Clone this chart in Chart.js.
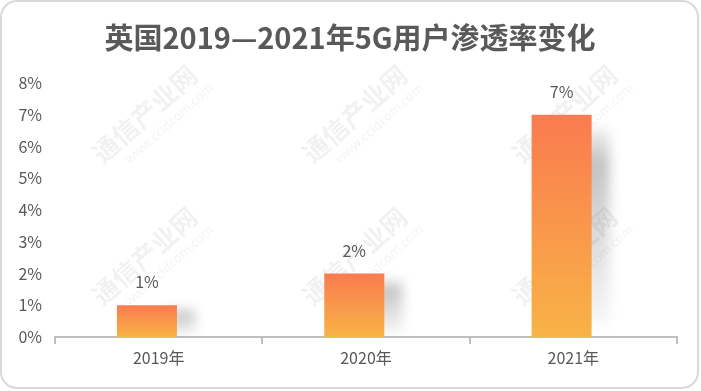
<!DOCTYPE html>
<html>
<head>
<meta charset="utf-8">
<script src="https://cdn.jsdelivr.net/npm/chart.js@4/dist/chart.umd.min.js"></script>
<style>
html,body{margin:0;padding:0;background:#fff;}
#wrap{position:relative;width:701px;height:391px;}
</style>
</head>
<body>
<div id="wrap"><canvas id="c" width="701" height="391"></canvas></div>
<script>
const titleText = '英国2019—2021年5G用户渗透率变化';
const categories = ['2019年', '2020年', '2021年'];
const penetration = [1, 2, 7];
const yTicks = [0, 1, 2, 3, 4, 5, 6, 7, 8];
const watermarkMain = '通信产业网';
const watermarkSub = 'www.ccidcom.com';

const FONT = '"Noto Sans CJK SC", "Noto Sans", sans-serif';
const TEXT = '#595959';

const framePlugin = {
  id: 'frame',
  beforeDraw(chart) {
    const ctx = chart.ctx;
    ctx.save();
    ctx.fillStyle = '#fff';
    ctx.fillRect(0, 0, chart.width, chart.height);
    ctx.fillStyle = 'rgba(0,0,0,0.055)';
    const xs = [150, 360, 570], ys = [120, 262];
    xs.forEach(x => ys.forEach(y => {
      ctx.save();
      ctx.translate(x, y);
      ctx.rotate(-Math.PI / 4.3);
      ctx.font = 'bold 26px ' + FONT;
      ctx.textAlign = 'center';
      ctx.textBaseline = 'middle';
      ctx.fillText(watermarkMain, 0, -8);
      ctx.font = '13px "Open Sans", sans-serif';
      ctx.fillText(watermarkSub, 12, 16);
      ctx.restore();
    }));
    ctx.restore();
  },
  afterDraw(chart) {
    const ctx = chart.ctx;
    ctx.save();
    ctx.strokeStyle = '#d9d9d9';
    ctx.lineWidth = 2;
    ctx.beginPath();
    ctx.roundRect(1, 1, 697, 387, 16);
    ctx.stroke();
    ctx.fillStyle = TEXT;
    ctx.font = 'bold 29px ' + FONT;
    ctx.textAlign = 'center';
    ctx.textBaseline = 'middle';
    ctx.fillText(titleText, 350, 38);
    const meta = chart.getDatasetMeta(0);
    ctx.font = '16px ' + FONT;
    ctx.textBaseline = 'bottom';
    meta.data.forEach((el, i) => {
      ctx.fillText(penetration[i] + '%', el.x, el.y - 15);
    });
    ctx.restore();
  }
};

// soft perspective shadow to the right of each bar, placed from the bar elements
const shadowPlugin = {
  id: 'barShadow',
  beforeDatasetDraw(chart) {
    const ctx = chart.ctx;
    const area = chart.chartArea;
    const meta = chart.getDatasetMeta(0);
    ctx.save();
    ctx.beginPath();
    ctx.rect(area.left, area.top - 40, area.right - area.left, area.bottom - area.top + 40);
    ctx.clip();
    ctx.filter = 'blur(6px)';
    meta.data.forEach(el => {
      const r = el.x + el.width / 2;
      const top = el.y, base = el.base;
      const h = base - top;
      const sTop = top + Math.min(14, h * 0.1);
      const sBot = base - Math.min(20, h * 0.06);
      const g = ctx.createLinearGradient(0, sTop, 0, sBot);
      g.addColorStop(0, 'rgba(0,0,0,0.06)');
      g.addColorStop(0.18, 'rgba(0,0,0,0.24)');
      g.addColorStop(0.45, 'rgba(0,0,0,0.16)');
      g.addColorStop(1, 'rgba(0,0,0,0.03)');
      ctx.fillStyle = g;
      ctx.fillRect(r - 12, sTop, 30, sBot - sTop);
    });
    ctx.restore();
  }
};

const shift = 0.0565;

new Chart(document.getElementById('c'), {
  type: 'bar',
  data: {
    labels: categories,
    datasets: [{
      data: penetration.map((v, i) => ({ x: i, y: v })),
      xAxisID: 'xb',
      barPercentage: 1,
      categoryPercentage: 60 / 207.3,
      borderWidth: 0,
      backgroundColor(context) {
        const chart = context.chart;
        const ys = chart.scales.y;
        if (!ys || context.raw == null) return '#F9954C';
        const top = ys.getPixelForValue(context.raw.y);
        const base = ys.getPixelForValue(0);
        if (!isFinite(top) || !isFinite(base) || top === base) return '#F9954C';
        const g = chart.ctx.createLinearGradient(0, top, 0, base);
        g.addColorStop(0, '#FA7B50');
        g.addColorStop(1, '#F8B346');
        return g;
      }
    }]
  },
  options: {
    responsive: false,
    animation: false,
    devicePixelRatio: 1,
    layout: { padding: { top: 83, left: 0, right: 24, bottom: 0 } },
    plugins: {
      legend: { display: false },
      title: { display: false },
      tooltip: { enabled: false }
    },
    scales: {
      x: {
        type: 'category',
        offset: true,
        grid: { offset: true, drawOnChartArea: false, drawTicks: true, tickLength: 7, color: '#bfbfbf', lineWidth: 2 },
        border: { display: true, color: '#bfbfbf', width: 2 },
        ticks: { color: TEXT, font: { family: FONT, size: 16 }, padding: 4, maxRotation: 0 },
        afterFit(s) { s.height = 54; }
      },
      xb: {
        type: 'linear',
        display: false,
        min: -0.5 + shift,
        max: 2.5 + shift,
        offset: false,
        afterBuildTicks(s) { s.ticks = categories.map((c, i) => ({ value: i })); }
      },
      y: {
        min: 0,
        max: 8,
        afterBuildTicks(s) { s.ticks = yTicks.map(v => ({ value: v })); },
        grid: { display: false, drawTicks: false },
        border: { display: false },
        ticks: {
          color: TEXT,
          font: { family: FONT, size: 16 },
          padding: 13,
          callback: v => v + '%'
        },
        afterFit(s) { s.width = 55; }
      }
    }
  },
  plugins: [framePlugin, shadowPlugin]
});
</script>
</body>
</html>
